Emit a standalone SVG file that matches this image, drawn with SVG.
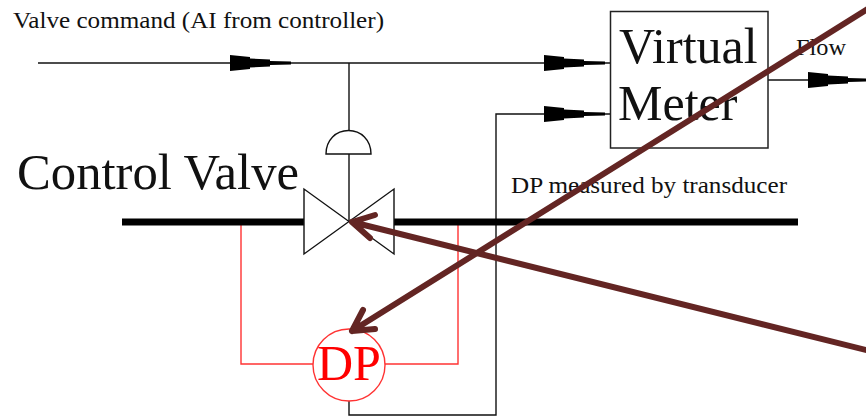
<svg xmlns="http://www.w3.org/2000/svg" width="866" height="418" viewBox="0 0 866 418">
<style>
.l{fill:none;stroke:#111;stroke-width:1.4}
.r{fill:none;stroke:#f33;stroke-width:1.4}
.t{font-family:"Liberation Serif",serif;fill:#111}
.b{fill:none;stroke:#632523;stroke-width:6;stroke-linecap:round;stroke-linejoin:round}
</style>
<defs>
<path id="ah" d="M0,-8 L20,-6 L20,-4.5 L40,-3.500 L40,-2 L61,-1.500 L61,1.500 L40,2 L40,3.500 L20,4.500 L20,6 L0,8Z" fill="#000"/>
</defs>
<rect width="866" height="418" fill="#fff"/>
<g id="connectors">
<path class="l" d="M38,63H610"/>
<path class="l" d="M349,63V130M349,154V222"/>
<path class="l" d="M349,401V415H496V114H610"/>
<path class="l" d="M768,80H866"/>
<path class="r" d="M241,225V364H313M385,364H458V225"/>
<use href="#ah" x="230" y="63"/>
<use href="#ah" x="544" y="63"/>
<use href="#ah" x="544" y="114"/>
<use href="#ah" x="808" y="80"/>
</g>
<g id="pipe"><path d="M122,222H304M394,222H798" stroke="#000" stroke-width="7" fill="none"/></g>
<g id="valve">
<path class="l" d="M304,189V254L394,189V254Z" fill="#fff"/>
<path class="l" d="M326,154H371C371,140 361,130.500 348.500,130.500C336,130.500 326,140 326,154Z"/>
</g>
<g id="label-command"><text class="t" x="13" y="28" font-size="24" textLength="371" lengthAdjust="spacingAndGlyphs">Valve command (AI from controller)</text></g>
<g id="label-valve"><text class="t" x="17" y="189" font-size="50" textLength="282" lengthAdjust="spacingAndGlyphs">Control Valve</text></g>
<g id="virtual-meter">
<rect x="610.500" y="11.500" width="157.500" height="136.500" fill="none" stroke="#222" stroke-width="1.500"/>
<text class="t" x="619" y="63" font-size="50">Virtual</text>
<text class="t" x="618" y="120" font-size="50">Meter</text>
</g>
<g id="label-flow"><text class="t" x="796" y="55" font-size="24" textLength="50" lengthAdjust="spacingAndGlyphs">Flow</text></g>
<g id="label-dp"><text class="t" x="511" y="193" font-size="24" textLength="276" lengthAdjust="spacingAndGlyphs">DP measured by transducer</text></g>
<g id="dp">
<circle class="r" cx="349" cy="365" r="36"/>
<text x="317" y="380" font-size="50" fill="#f00" font-family="'Liberation Serif',serif">DP</text>
</g>
<g id="overlay-arrows">
<path class="b" d="M870,7.500L352,331M352,331L363,310M352,331L375,329"/>
<path class="b" d="M870,351L352,222M352,222L375,215M352,222L370,238"/>
</g>
</svg>
